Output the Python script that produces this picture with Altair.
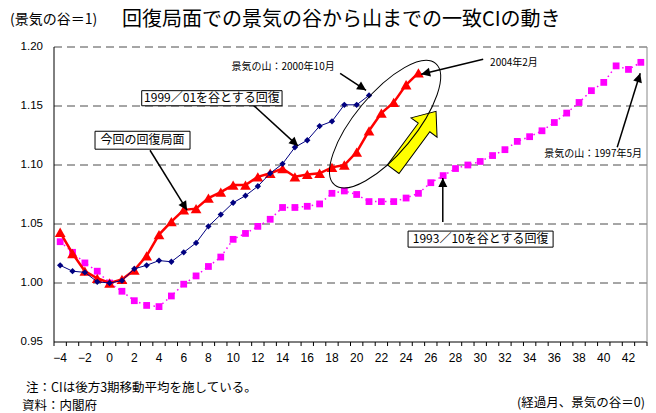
import math
import altair as alt
import pandas as pd

# ---------------- data ----------------
red_months = list(range(-4, 26))
red_values = [1.043, 1.025, 1.010, 1.004, 1.000, 1.003, 1.011, 1.023, 1.041, 1.052,
              1.062, 1.063, 1.072, 1.077, 1.083, 1.083, 1.090, 1.093, 1.097, 1.090,
              1.092, 1.093, 1.098, 1.100, 1.111, 1.129, 1.144, 1.153, 1.168, 1.178]

blue_months = list(range(-4, 22))
blue_values = [1.015, 1.010, 1.009, 1.001, 1.000, 1.002, 1.012, 1.015, 1.019, 1.018,
               1.026, 1.034, 1.048, 1.058, 1.068, 1.074, 1.082, 1.093, 1.101, 1.115,
               1.121, 1.133, 1.137, 1.151, 1.151, 1.159]

pink_months = list(range(-4, 44))
pink_values = [1.035, 1.026, 1.017, 1.010, 1.000, 0.993, 0.985, 0.981, 0.980, 0.989,
               0.999, 1.006, 1.014, 1.022, 1.037, 1.042, 1.048, 1.054, 1.064, 1.064,
               1.065, 1.067, 1.076, 1.078, 1.075, 1.069, 1.069, 1.069, 1.072, 1.076,
               1.085, 1.091, 1.097, 1.100, 1.103, 1.108, 1.113, 1.120, 1.124, 1.129,
               1.136, 1.144, 1.153, 1.163, 1.170, 1.184, 1.181, 1.187]

x_label_values = list(range(-4, 43, 2))
y_tick_values = [0.95, 1.00, 1.05, 1.10, 1.15, 1.20]
grid_values = [1.00, 1.05, 1.10, 1.15, 1.20]

title_text = "回復局面での景気の谷から山までの一致CIの動き"
unit_text = "(景気の谷＝1)"
note_text = "注：CIは後方3期移動平均を施している。"
source_text = "資料：内閣府"
xunit_text = "(経過月、景気の谷＝0)"

# annotation boxes: text, x-from, x-to, y-from, y-to (data units)
box_texts = ["1999／01を谷とする回復", "今回の回復局面", "1993／10を谷とする回復"]
box_x0 = [2.60, -1.18, 24.16]
box_x1 = [13.96, 6.51, 35.90]
box_y0 = [1.1502, 1.1134, 1.0304]
box_y1 = [1.1630, 1.1286, 1.0440]

# arrows: start -> end (data units)
arr_x0 = [11.37, 3.27, 18.66, 30.24, 26.97, 41.09]
arr_y0 = [1.1532, 1.1125, 1.1777, 1.1896, 1.0516, 1.1151]
arr_x1 = [15.26, 6.27, 20.76, 25.22, 26.97, 42.95]
arr_y1 = [1.1160, 1.0617, 1.1633, 1.1769, 1.0889, 1.1777]

# small labels
lab_texts = ["景気の山：2000年10月", "2004年2月", "景気の山：1997年5月"]
lab_x = [14.04, 30.80, 39.14]
lab_y = [1.1828, 1.1865, 1.1089]
lab_align = ["center", "left", "center"]

# ellipse and yellow arrow centres
ell_x, ell_y = [22.30], [1.1346]
yarr_x, yarr_y = [24.69], [1.1210]

# ---------------- layout ----------------
W, H = 593, 295
XDOM = [-4.5, 43.5]
YDOM = [0.95, 1.20]
SX = W / (XDOM[1] - XDOM[0])
SY = H / (YDOM[1] - YDOM[0])

JP = "Noto Sans CJK JP"
NUM = "Liberation Sans"

xs = alt.Scale(domain=XDOM, nice=False, zero=False)
ys = alt.Scale(domain=YDOM, nice=False, zero=False)

boundaries = [XDOM[0] + i for i in range(int(XDOM[1] - XDOM[0]) + 1)]


def X(f):
    return alt.X(f, type="quantitative", scale=xs, axis=None)


def Y(f):
    return alt.Y(f, type="quantitative", scale=ys, axis=None)


# gridlines (dashed) drawn from the tick values
grid_df = pd.DataFrame({"g": grid_values})
grid = alt.Chart(grid_df).mark_rule(color="#4d4d4d", strokeWidth=1, strokeDash=[8, 5]).encode(
    y=Y("g"))

# x axis: domain, ticks between months, labels
xdom_df = pd.DataFrame({"x0": [XDOM[0]], "x1": [XDOM[1]], "y0": [YDOM[0]], "y1": [YDOM[1]]})
x_domain = alt.Chart(xdom_df).mark_rule(color="black", strokeWidth=1).encode(
    x=X("x0"), x2="x1:Q", y=Y("y0"))
y_domain = alt.Chart(xdom_df).mark_rule(color="black", strokeWidth=1).encode(
    x=X("x0"), y=Y("y0"), y2="y1:Q")
right_border = alt.Chart(xdom_df).mark_rule(color="#888888", strokeWidth=1).encode(
    x=X("x1"), y=Y("y0"), y2="y1:Q")

tick_df = pd.DataFrame({"b": boundaries})
x_ticks = alt.Chart(tick_df).mark_rule(color="black", strokeWidth=1).encode(
    x=X("b"), y=alt.value(H), y2=alt.value(H + 4))

xlab_df = pd.DataFrame({"m": x_label_values})
x_labels = alt.Chart(xlab_df).mark_text(font=NUM, fontSize=12, color="black", baseline="middle", align="center").encode(
    x=X("m"), y=alt.value(H + 16), text=alt.Text("m:Q", format="d"))

ylab_df = pd.DataFrame({"v": y_tick_values})
y_labels = alt.Chart(ylab_df).mark_text(font=NUM, fontSize=11.5, color="black", baseline="middle", align="right").encode(
    x=alt.value(-11), y=Y("v"), text=alt.Text("v:Q", format=".2f"))

pink_df = pd.DataFrame({"m": pink_months, "v": pink_values})
red_df = pd.DataFrame({"m": red_months, "v": red_values})
blue_df = pd.DataFrame({"m": blue_months, "v": blue_values})

pink_line = alt.Chart(pink_df).mark_line(color="#FF00FF", strokeWidth=1.5, strokeDash=[1.5, 3.5]).encode(
    x=X("m"), y=Y("v"))
pink_pts = alt.Chart(pink_df).mark_point(shape="square", filled=True, size=46, color="#FF00FF", opacity=1).encode(
    x=X("m"), y=Y("v"))

red_line = alt.Chart(red_df).mark_line(color="#FF0000", strokeWidth=2.5).encode(x=X("m"), y=Y("v"))
red_pts = alt.Chart(red_df).mark_point(shape="triangle-up", filled=True, size=115, color="#FF0000", opacity=1).encode(
    x=X("m"), y=Y("v"))

blue_line = alt.Chart(blue_df).mark_line(color="#000080", strokeWidth=1).encode(x=X("m"), y=Y("v"))
blue_pts = alt.Chart(blue_df).mark_point(shape="diamond", filled=True, size=40, color="#000080", opacity=1).encode(
    x=X("m"), y=Y("v"))

# yellow block arrow
yarrow_path = "M0,-1 L0.45,-0.44 L0.2,-0.44 L0.2,1 L-0.2,1 L-0.2,-0.44 L-0.45,-0.44 Z"
yarrow = alt.Chart(pd.DataFrame({"x": yarr_x, "y": yarr_y})).mark_point(
    shape=yarrow_path, size=72 * 72, angle=36.5, filled=True, fill="#FFFF00",
    stroke="black", strokeWidth=1, opacity=1).encode(x=X("x"), y=Y("y"))

# ellipse
ellipse_path = "M-1,0 A1,0.38 0 1,1 1,0 A1,0.38 0 1,1 -1,0 Z"
ellipse = alt.Chart(pd.DataFrame({"x": ell_x, "y": ell_y})).mark_point(
    shape=ellipse_path, size=158 * 158, angle=309.7, filled=False,
    stroke="black", strokeWidth=1, opacity=1).encode(x=X("x"), y=Y("y"))

# arrows
angles = []
for a, b, c, d in zip(arr_x0, arr_y0, arr_x1, arr_y1):
    dx = (c - a) * SX
    dy = -(d - b) * SY
    angles.append(math.degrees(math.atan2(dx, -dy)) % 360)
arr_df = pd.DataFrame({"x0": arr_x0, "y0": arr_y0, "x1": arr_x1, "y1": arr_y1, "ang": angles})
arrow_lines = alt.Chart(arr_df).mark_rule(color="black", strokeWidth=1.5).encode(
    x=X("x0"), y=Y("y0"), x2="x1:Q", y2="y1:Q")
head_path = "M0,0 L0.5,1 L-0.5,1 Z"
arrow_heads = alt.Chart(arr_df).mark_point(shape=head_path, size=324, filled=True, color="black", opacity=1).encode(
    x=X("x1"), y=Y("y1"), angle=alt.Angle("ang:Q", scale=None))

# boxes
box_df = pd.DataFrame({"t": box_texts, "x0": box_x0, "x1": box_x1, "y0": box_y0, "y1": box_y1})
box_df["xc"] = (box_df["x0"] + box_df["x1"]) / 2
box_df["yc"] = (box_df["y0"] + box_df["y1"]) / 2
boxes = alt.Chart(box_df).mark_rect(fill="white", stroke="black", strokeWidth=1).encode(
    x=X("x0"), x2="x1:Q", y=Y("y0"), y2="y1:Q")
box_labels = alt.Chart(box_df).mark_text(font=JP, fontSize=12, color="black", baseline="middle", align="center").encode(
    x=X("xc"), y=Y("yc"), text="t:N")

# small labels
lab_layers = []
for t, x, y, al in zip(lab_texts, lab_x, lab_y, lab_align):
    lab_layers.append(
        alt.Chart(pd.DataFrame({"t": [t], "x": [x], "y": [y]})).mark_text(
            font=JP, fontSize=10, color="black", align=al, baseline="middle").encode(
            x=X("x"), y=Y("y"), text="t:N"))


def free_text(t, px, py, size, align="left"):
    return alt.Chart(pd.DataFrame({"t": [t]})).mark_text(
        font=JP, fontSize=size, color="black", align=align, baseline="middle").encode(
        text="t:N", x=alt.value(px), y=alt.value(py))


title = free_text(title_text, 68, -27, 20)
unit = free_text(unit_text, -44, -27, 14)
note = free_text(note_text, -28, 341, 12.5)
source = free_text(source_text, -32, 359, 12.5)
xunit = free_text(xunit_text, 591, 356, 12.5, align="right")

chart = alt.layer(
    grid, x_ticks, x_domain, y_domain, right_border, x_labels, y_labels,
    pink_line, pink_pts, red_line, red_pts, blue_line, blue_pts,
    yarrow, ellipse, arrow_lines, arrow_heads, boxes, box_labels, *lab_layers,
    title, unit, note, source, xunit,
).properties(
    width=W, height=H,
    padding={"left": 54, "top": 47, "right": 9, "bottom": 71},
    autosize=alt.AutoSizeParams(type="none"),
    background="white",
).configure_view(stroke=None)

chart.save("out.html", embed_options={"renderer": "svg", "actions": False})
